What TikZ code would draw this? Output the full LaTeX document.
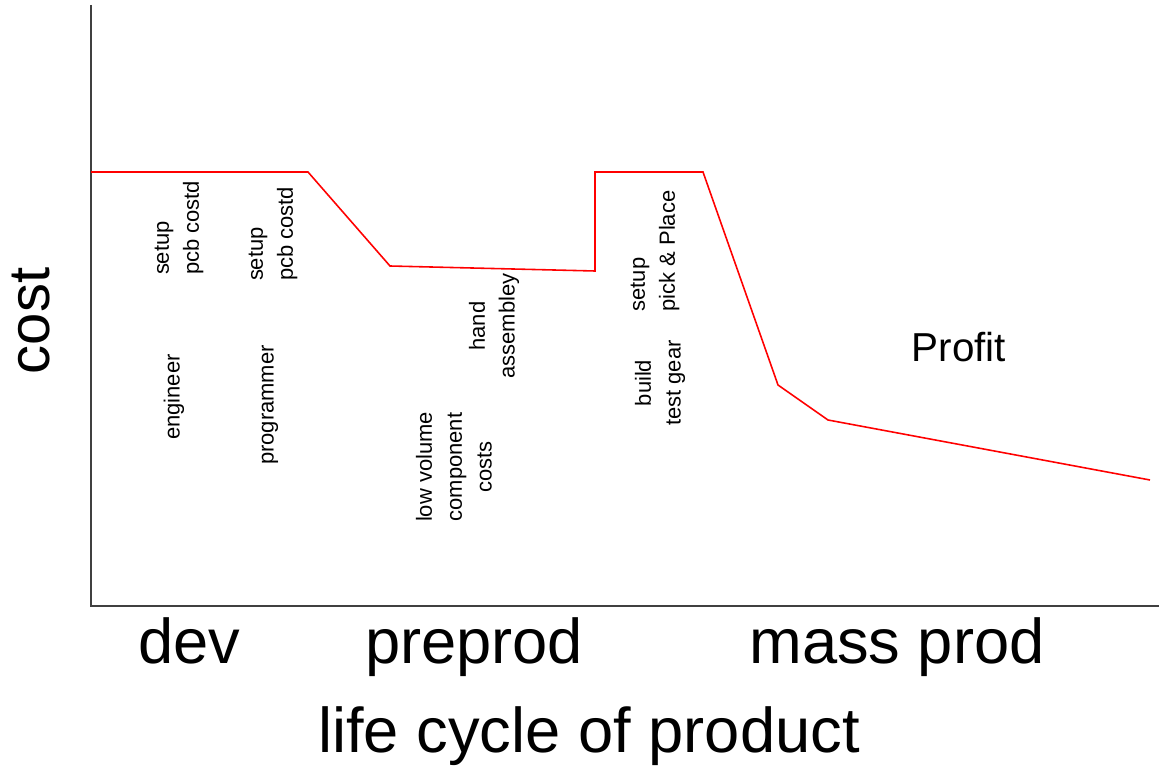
\documentclass[tikz,border=0pt]{standalone}
\usepackage{fontspec}
\setmainfont{Liberation Sans}
\tikzstyle{note} = [rotate=90, inner sep=0pt, font=\fontsize{12.5}{17}\selectfont]
\tikzstyle{big} = [inner sep=0pt, font=\fontsize{36}{40}\selectfont]
\tikzstyle{axis} = [line width=1.2pt, draw=black!75]
\tikzstyle{costline} = [draw=red, line width=0.9pt]

\begin{document}
\begin{tikzpicture}[x=0.02cm, y=-0.02cm]
\useasboundingbox (0,0) rectangle (1159,766);
% axes
\draw [axis] (91,5) -- (91,606) -- (1159,606);
% cost over the life cycle
\draw [costline] (91,172) -- (308,172) -- (390,266) -- (595,271) -- (595,172)
  -- (703,172) -- (778,385) -- (828,420) -- (1150,480);
% labels in the plot
\node (setup1) [note, align=left] at (179,228) {setup\\pcb costd};
\node (setup2) [note, align=left] at (273,234) {setup\\pcb costd};
\node (engineer) [note] at (174,397) {engineer};
\node (programmer) [note] at (270,405) {programmer};
\node (hand) [note, align=center] at (494,326) {hand\\assembley};
\node (lowvol) [note, align=center] at (454,467) {low volume\\component\\costs};
\node (pickplace) [note, align=left] at (655,251) {setup\\pick \& Place};
\node (testgear) [note, align=center] at (660,383) {build\\test gear};
\node (profit) [inner sep=0pt, anchor=base, font=\fontsize{23}{26}\selectfont] at (959,362) {Profit};
% axis titles
\node (cost) [inner sep=0pt, rotate=90, anchor=base, font=\fontsize{33}{38}\selectfont] at (50,321) {cost};
\node (dev) [big, anchor=base] at (189,663) {dev};
\node (preprod) [big, anchor=base] at (474,663) {preprod};
\node (massprod) [big, anchor=base] at (897,663) {mass prod};
\node (cycle) [big, anchor=base] at (589,752) {life cycle of product};
\end{tikzpicture}
\end{document}
